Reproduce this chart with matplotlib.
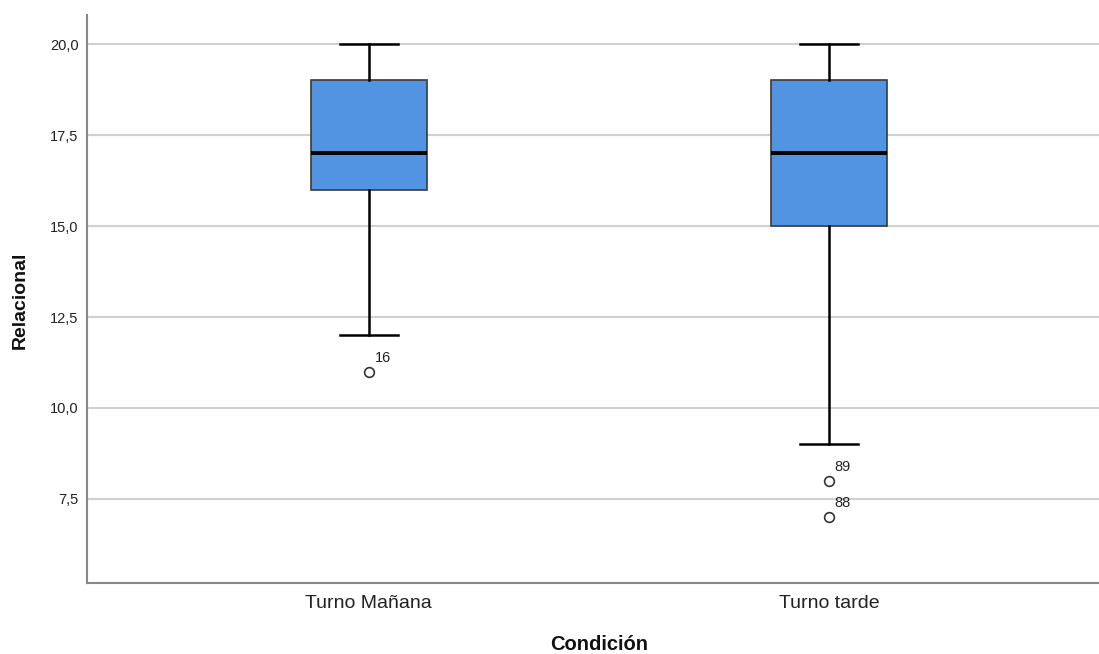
import matplotlib
matplotlib.use("Agg")
import matplotlib.pyplot as plt
from matplotlib.ticker import FixedLocator, FuncFormatter

plt.rcParams['font.family'] = ['Liberation Sans', 'DejaVu Sans']

categories = ["Turno Mañana", "Turno tarde"]
whisker_low = [12, 9]
q1 = [16, 15]
median = [17, 17]
q3 = [19, 19]
whisker_high = [20, 20]
outliers = [[11], [8, 7]]
outlier_ids = [["16"], ["89", "88"]]
yticks = [7.5, 10.0, 12.5, 15.0, 17.5, 20.0]

fig = plt.figure(figsize=(10.99, 6.54), dpi=100)
ax = fig.add_axes([87/1099, 1 - 583/654, 1 - 87/1099, (583 - 15)/654])

stats = []
for i in range(len(categories)):
    stats.append(dict(whislo=whisker_low[i], q1=q1[i], med=median[i], q3=q3[i],
                      whishi=whisker_high[i], fliers=[], label=categories[i]))

pos = list(range(len(categories)))
ax.bxp(stats, positions=pos, widths=0.252, patch_artist=True, showfliers=False,
       boxprops=dict(facecolor='#5294E2', edgecolor='#3a3a3a', linewidth=1.2),
       medianprops=dict(color='black', linewidth=2.8),
       whiskerprops=dict(color='black', linewidth=1.8),
       capprops=dict(color='black', linewidth=1.8),
       capwidths=0.126, zorder=3)

for i, (vals, ids) in enumerate(zip(outliers, outlier_ids)):
    ax.plot([i] * len(vals), vals, linestyle='none', marker='o', markersize=7,
            markerfacecolor='white', markeredgecolor='#333333', markeredgewidth=1.2, zorder=4)
    for v, lab in zip(vals, ids):
        ax.annotate(lab, (i, v), xytext=(6, 14), textcoords='offset pixels',
                    ha='left', va='center', fontsize=10.5, color='#222222', zorder=5)

ax.set_xlim(-0.612, 1.587)
ax.set_ylim(5.19, 20.8)
ax.yaxis.set_major_locator(FixedLocator(yticks))
ax.yaxis.set_major_formatter(FuncFormatter(lambda v, p: f"{v:.1f}".replace('.', ',')))
ax.set_xticks(pos)
ax.set_xticklabels(categories)
ax.grid(axis='y', color='#d0d0d0', linewidth=1.5, zorder=0)
ax.set_axisbelow(True)
ax.tick_params(axis='y', length=0, pad=6, labelsize=10.5, labelcolor='#222222')
ax.tick_params(axis='x', length=0, pad=9, labelsize=14, labelcolor='#222222')
for s in ['top', 'right']:
    ax.spines[s].set_visible(False)
for s in ['left', 'bottom']:
    ax.spines[s].set_color('#888888')
    ax.spines[s].set_linewidth(1.5)

fig.text(549/1099 + 50/1099, 1 - 645/654, "Condición", ha='center', va='center',
         fontsize=14.5, fontweight='bold', color='#111111')
fig.text(20/1099, 1 - 300/654, "Relacional", ha='center', va='center', rotation=90,
         fontsize=14, fontweight='bold', color='#111111')

fig.savefig("out.png", dpi=100)
